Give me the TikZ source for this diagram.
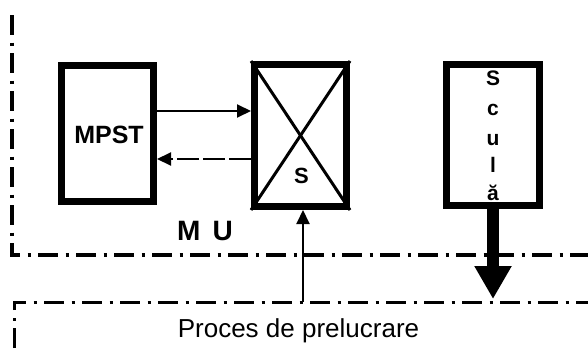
\documentclass[tikz,border=0pt]{standalone}
\usepackage{fontspec}
\setmainfont{Liberation Sans}
\usetikzlibrary{arrows.meta}
\begin{document}
\begin{tikzpicture}[x=1pt,y=-1pt,
  blk/.style={draw,line width=7pt,inner sep=0pt,rectangle},
  dashdotline/.style={line width=3.5pt,dash pattern=on 20pt off 7.5pt on 3pt off 7.5pt},
  arr/.style={line width=2pt,-{Triangle[width=13pt,length=14pt]}},
  lbl/.style={inner sep=0pt,anchor=base}]
\useasboundingbox (0,0) rectangle (588,348);
% blocks
\node[blk,minimum width=92pt,minimum height=136pt] (mpst) at (107.5,133.5) {};
\node[blk,minimum width=92pt,minimum height=142pt] (sbox) at (300.5,135.5) {};
\node[blk,minimum width=93pt,minimum height=140.5pt] (scula) at (493,135) {};
\draw[line width=3pt] (sbox.north west) -- (sbox.south east);
\draw[line width=3pt] (sbox.north east) -- (sbox.south west);
% labels
\node[lbl,font=\fontsize{25}{25}\selectfont\bfseries] (tmpst) at (109,143) {MPST};
\node[lbl,font=\fontsize{22}{22}\selectfont\bfseries] (ts) at (301.5,183) {S};
\node[lbl,font=\fontsize{21}{21}\selectfont\bfseries] (c1) at (493,85) {S};
\node[lbl,font=\fontsize{21}{21}\selectfont\bfseries] (c2) at (493,115) {c};
\node[lbl,font=\fontsize{21}{21}\selectfont\bfseries] (c3) at (493,145) {u};
\node[lbl,font=\fontsize{21}{21}\selectfont\bfseries] (c4) at (493,172) {l};
\node[lbl,font=\fontsize{21}{21}\selectfont\bfseries] (c5) at (493,200) {ă};
\node[lbl,font=\fontsize{28}{28}\selectfont\bfseries] (mu) at (205,240) {M\hspace{12pt}U};
\node[lbl,font=\fontsize{26}{26}\selectfont] (proc) at (298.5,337) {Proces de prelucrare};
% region boundaries
\coordinate (mutop) at (12,15);
\coordinate (mucorner) at (12,255);
\coordinate (muright) at (588,255);
\coordinate (pbot) at (14,348);
\coordinate (pcorner) at (14,302);
\coordinate (pright) at (588,302);
\draw[dashdotline] (mutop) -- (mucorner) -- (muright);
\draw[dashdotline,line width=3pt] (pbot) -- (pcorner) -- (pright);
% arrows between MPST and S
\coordinate (ya) at (0,111);
\coordinate (yb) at (0,159);
\draw[arr] (mpst.east |- ya) -- (sbox.west |- ya);
\draw[arr,dash pattern=on 22pt off 4pt] (sbox.west |- yb) -- (mpst.east |- yb);
% process to S
\coordinate (pin) at (303,302);
\draw[arr] (pin) -- (sbox.south -| pin);
% tool to process
\coordinate (pout) at (493,299);
\draw[line width=12pt,-{Triangle[width=35pt,length=33pt]}] (scula.south) -- (pout);
\end{tikzpicture}
\end{document}
